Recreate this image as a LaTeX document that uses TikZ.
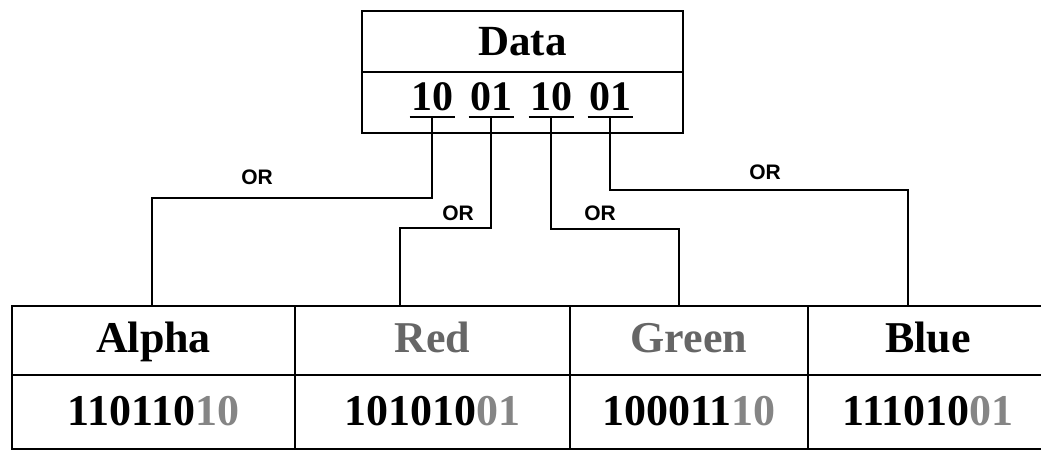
\documentclass[tikz,border=0pt]{standalone}
\usepackage{fontspec}
\setmainfont{Liberation Serif}
\setsansfont{Liberation Sans}
\usetikzlibrary{positioning,calc}
\definecolor{lowbit}{gray}{0.52}
\definecolor{headgrey}{gray}{0.4}
\newcommand\lowbits[1]{\textcolor{lowbit}{#1}}

\begin{document}
\begin{tikzpicture}[x=1pt,y=-1pt,
  every node/.style={inner sep=0pt,outer sep=0pt},
  box/.style={draw,line width=2.5pt},
  headcell/.style={box,minimum height=69pt,text height=31pt,text depth=8pt,font=\fontsize{44}{44}\selectfont\bfseries},
  bitcell/.style={box,minimum height=74pt,text height=31pt,text depth=5pt,font=\fontsize{44}{44}\selectfont\bfseries},
  pair/.style={anchor=base,inner xsep=1.5pt,inner ysep=7pt,text depth=0pt,font=\fontsize{42}{42}\selectfont\bfseries},
  wire/.style={line width=2.2pt},
  orlabel/.style={font=\fontsize{21}{21}\selectfont\sffamily\bfseries}]
\useasboundingbox (0,0) rectangle (1041,451);
\clip (0,0) rectangle (1041,451);

\node[box,minimum width=321pt,minimum height=61pt,text height=30pt,text depth=3pt,font=\fontsize{43}{43}\selectfont\bfseries] (dhead) at (522.5,41.5) {Data};
\node[box,minimum width=321pt,minimum height=61pt] (dbits) at (522.5,102.5) {};
\node[pair] (b1) at (432,110) {10};
\node[pair] (b2) at (491,110) {01};
\node[pair] (b3) at (551,110) {10};
\node[pair] (b4) at (610,110) {01};
\foreach \b in {b1,b2,b3,b4}
  \draw[wire] (\b.south west) -- (\b.south east);

\node[headcell,minimum width=283pt] (alpha) at (153.5,340.5) {Alpha};
\node[headcell,minimum width=275pt,text=headgrey] (red) at (432.5,340.5) {Red};
\node[headcell,minimum width=238pt,text=headgrey] (green) at (689,340.5) {Green};
\node[headcell,minimum width=240pt] (blue) at (928,340.5) {Blue};
\node[bitcell,minimum width=283pt] (alphaval) at (153.5,412) {110110\lowbits{10}};
\node[bitcell,minimum width=275pt] (redval) at (432.5,412) {101010\lowbits{01}};
\node[bitcell,minimum width=238pt] (greenval) at (689,412) {100011\lowbits{10}};
\node[bitcell,minimum width=240pt] (blueval) at (928,412) {111010\lowbits{01}};

\coordinate (k1) at (152,198);
\coordinate (k2) at (400,228);
\coordinate (k3) at (679,229);
\coordinate (k4) at (908,190);
\draw[wire] (b1.south) |- (k1) -- (k1 |- alpha.north);
\draw[wire] (b2.south) |- (k2) -- (k2 |- red.north);
\draw[wire] (b3.south) |- (k3) -- (k3 |- green.north);
\draw[wire] (b4.south) |- (k4) -- (k4 |- blue.north);

\node[orlabel] (or1) at (257,177) {OR};
\node[orlabel] (or2) at (458,213) {OR};
\node[orlabel] (or3) at (600,213) {OR};
\node[orlabel] (or4) at (765,172) {OR};
\end{tikzpicture}
\end{document}
